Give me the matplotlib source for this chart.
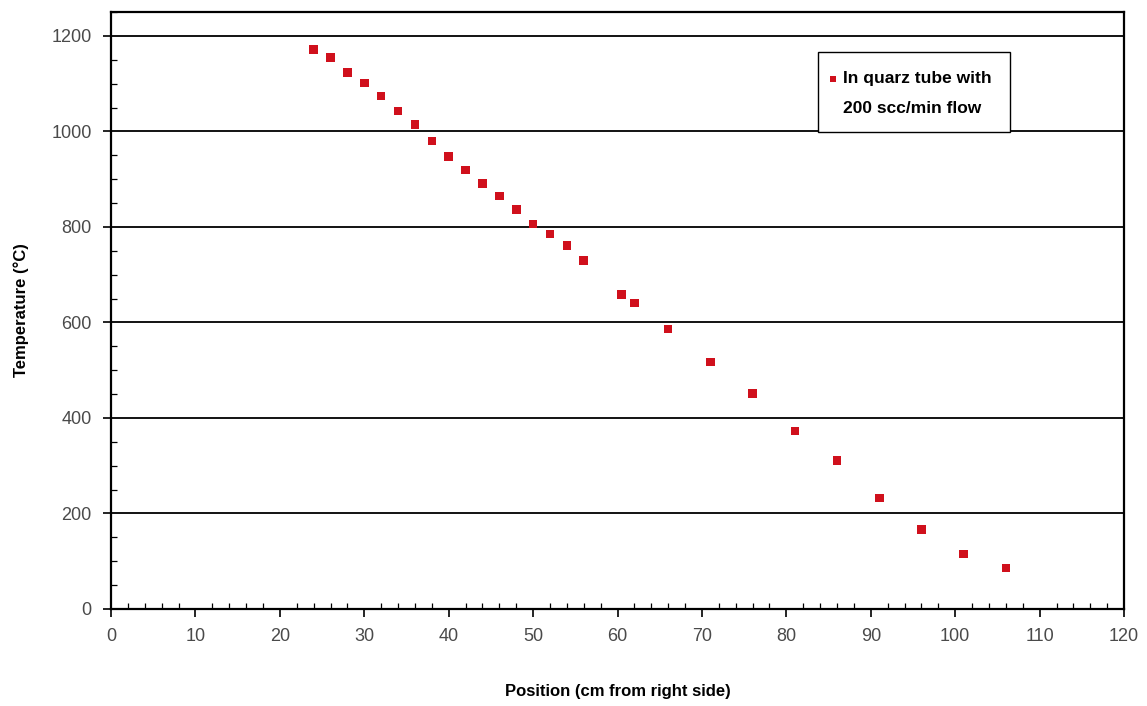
import numpy as np
import matplotlib
matplotlib.use("Agg")
import matplotlib.pyplot as plt
from matplotlib.ticker import MultipleLocator
from matplotlib.patches import Rectangle

# data
position = [24, 26, 28, 30, 32, 34, 36, 38, 40, 42, 44, 46, 48, 50, 52, 54, 56,
            60.5, 62, 66, 71, 76, 81, 86, 91, 96, 101, 106]
temperature = [1172, 1155, 1123, 1101, 1074, 1043, 1014, 980, 948, 919, 891, 865,
               836, 806, 785, 761, 730,
               658, 641, 586, 517, 451, 373, 311, 232, 167, 115, 86]
series_label = "In quarz tube with\n200 scc/min flow"
x_label = "Position (cm from right side)"
y_label = "Temperature (°C)"

plt.rcParams['font.family'] = ['Liberation Sans', 'DejaVu Sans']
red = "#d0101c"

fig = plt.figure(figsize=(11.47, 7.06), dpi=100)
ax = fig.add_axes([0.0968, 0.1374, 0.8832, 0.8456])

ax.scatter(position, temperature, marker="s", s=38, color=red,
           edgecolors="none", zorder=3)

ax.set_xlim(0, 120)
ax.set_ylim(0, 1250)
ax.xaxis.set_major_locator(MultipleLocator(10))
ax.xaxis.set_minor_locator(MultipleLocator(2))
ax.yaxis.set_major_locator(MultipleLocator(200))
ax.yaxis.set_minor_locator(MultipleLocator(50))

ax.grid(axis="y", which="major", color="black", linewidth=1.3)
ax.set_axisbelow(True)

for sp in ax.spines.values():
    sp.set_linewidth(1.6)
    sp.set_color("black")

ax.tick_params(which="major", direction="out", length=6, width=1.2,
               labelsize=13, labelcolor="#4a4a4a", pad=8)
ax.tick_params(which="minor", direction="in", length=4, width=0.9)

ax.set_xlabel(x_label, fontsize=12, fontweight="bold", labelpad=28)
ax.set_ylabel(y_label, fontsize=12, fontweight="bold", labelpad=16)

# legend box drawn by hand (Excel style: marker next to first line)
ax.add_patch(Rectangle((0.698, 0.799), 0.1895, 0.134, transform=ax.transAxes,
                       facecolor="white", edgecolor="black", linewidth=1.0, zorder=4))
ax.scatter([0.7127], [0.888], transform=ax.transAxes, marker="s", s=22,
           color=red, edgecolors="none", zorder=5)
ax.text(0.7226, 0.8635, series_label, transform=ax.transAxes, ha="left", va="center",
        fontsize=12.5, fontweight="bold", linespacing=2.2, zorder=5)

fig.savefig("out.png", dpi=100)
